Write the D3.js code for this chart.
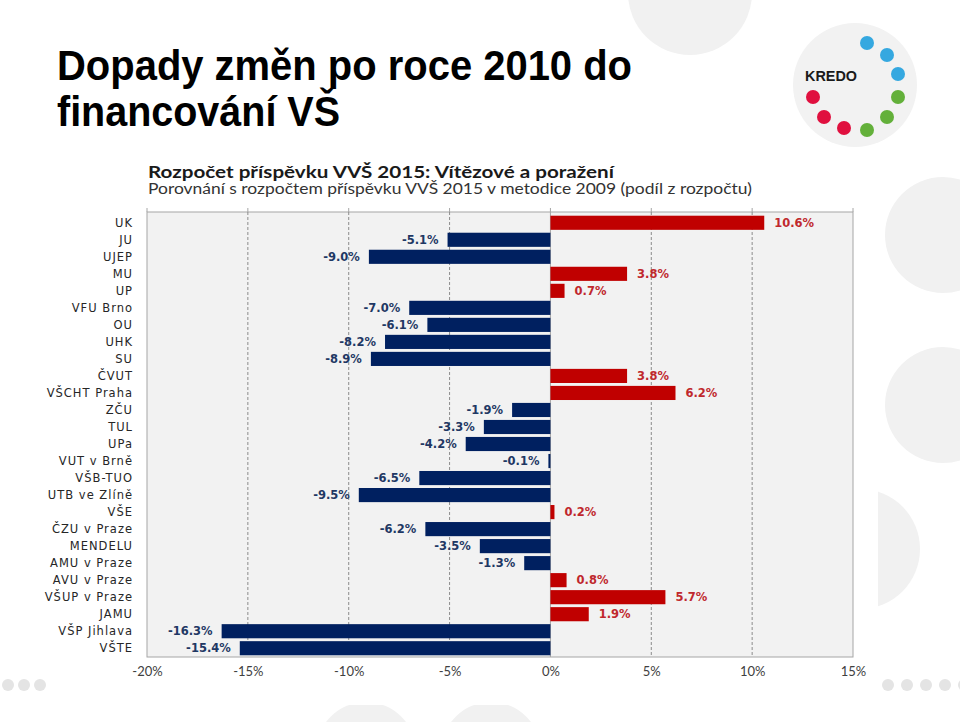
<!DOCTYPE html>
<html><head><meta charset="utf-8">
<script src="https://cdn.jsdelivr.net/npm/d3@7"></script>
<style>body{margin:0;background:#fff}svg{display:block}</style>
</head><body>
<script>
const categories = ["UK","JU","UJEP","MU","UP","VFU Brno","OU","UHK","SU","ČVUT","VŠCHT Praha","ZČU","TUL","UPa","VUT v Brně","VŠB-TUO","UTB ve Zlíně","VŠE","ČZU v Praze","MENDELU","AMU v Praze","AVU v Praze","VŠUP v Praze","JAMU","VŠP Jihlava","VŠTE"];
const values = [10.6,-5.1,-9.0,3.8,0.7,-7.0,-6.1,-8.2,-8.9,3.8,6.2,-1.9,-3.3,-4.2,-0.1,-6.5,-9.5,0.2,-6.2,-3.5,-1.3,0.8,5.7,1.9,-16.3,-15.4];
const xTicks = [-20,-15,-10,-5,0,5,10,15];
const gridTicks = [-15,-10,-5,5,10];
const pageTitle = ["Dopady změn po roce 2010 do","financování VŠ"];
const chartTitle = "Rozpočet příspěvku VVŠ 2015: Vítězové a poražení";
const chartSubtitle = "Porovnání s rozpočtem příspěvku VVŠ 2015 v metodice 2009 (podíl z rozpočtu)";

(function(){
const W=960,H=722;
const svg=d3.select("body").append("svg").attr("width",W).attr("height",H);
const bgC="#f1f1f1";
const deco=[[690,-7,62],[943,235,58],[943,405,58],[860,549,60],[366,752,50],[491,752,50]];
svg.selectAll("circle.deco").data(deco).join("circle").attr("class","deco")
  .attr("cx",d=>d[0]).attr("cy",d=>d[1]).attr("r",d=>d[2]).attr("fill",bgC);
const dotsL=[8,24,40], dotsR=[888,907,926,945,964];
svg.selectAll("circle.dl").data(dotsL.concat(dotsR)).join("circle").attr("class","dl")
  .attr("cx",d=>d).attr("cy",685).attr("r",6).attr("fill","#e4e4e4");

svg.append("rect").attr("x",138).attr("y",150).attr("width",740).attr("height",555).attr("fill","#fff");

svg.append("circle").attr("cx",855).attr("cy",85).attr("r",62).attr("fill","#f2f2f2");
const logoDots=[[867,43,"#35a8e0"],[887,55,"#35a8e0"],[898,74,"#35a8e0"],[898,97,"#63b03a"],[887,117,"#63b03a"],[867,130,"#63b03a"],[844,128,"#e0103f"],[824,117,"#e0103f"],[813,97,"#e0103f"]];
svg.selectAll("circle.ld").data(logoDots).join("circle").attr("class","ld")
  .attr("cx",d=>d[0]).attr("cy",d=>d[1]).attr("r",7).attr("fill",d=>d[2]);
svg.append("text").attr("x",805).attr("y",81).attr("font-family","Liberation Sans, Arial, sans-serif")
  .attr("font-size",15).attr("font-weight","bold").attr("fill","#1a1a1a")
  .attr("textLength",52).attr("lengthAdjust","spacingAndGlyphs").text("KREDO");

svg.selectAll("text.pt").data(pageTitle).join("text").attr("class","pt")
  .attr("x",57).attr("y",(d,i)=>80+i*46)
  .attr("font-family","Liberation Sans, Arial, sans-serif").attr("font-weight","bold")
  .attr("font-size",42).attr("fill","#000")
  .attr("textLength",(d,i)=>i?283:575).attr("lengthAdjust","spacingAndGlyphs")
  .text(d=>d);

svg.append("text").attr("x",148).attr("y",178).attr("font-family","Lato, sans-serif")
  .attr("font-weight","bold").attr("font-size",17.5).attr("fill","#1a1a1a")
  .attr("textLength",466).attr("lengthAdjust","spacingAndGlyphs").text(chartTitle);
svg.append("text").attr("x",148).attr("y",194).attr("font-family","Lato, sans-serif")
  .attr("font-size",14.5).attr("fill","#333")
  .attr("textLength",604).attr("lengthAdjust","spacingAndGlyphs").text(chartSubtitle);

const x=d3.scaleLinear().domain([-20,15]).range([147,853]);
const y=d3.scaleBand().domain(categories).range([214,657]).paddingInner(0.17).paddingOuter(0.1);
const pTop=212,pBot=657;

svg.append("rect").attr("x",x(-20)).attr("y",pTop).attr("width",x(15)-x(-20)).attr("height",pBot-pTop)
  .attr("fill","#f2f2f2").attr("stroke","#a6a6a6").attr("stroke-width",1);
svg.selectAll("line.tt").data(xTicks).join("line").attr("class","tt")
  .attr("x1",d=>x(d)).attr("x2",d=>x(d)).attr("y1",pTop-4).attr("y2",pTop).attr("stroke","#a6a6a6");
svg.selectAll("line.grid").data(gridTicks).join("line").attr("class","grid")
  .attr("x1",d=>x(d)).attr("x2",d=>x(d)).attr("y1",pTop).attr("y2",pBot)
  .attr("stroke","#8c8c8c").attr("stroke-width",1).attr("stroke-dasharray","3,2");
svg.append("line").attr("x1",x(0)).attr("x2",x(0)).attr("y1",pTop).attr("y2",pBot).attr("stroke","#a6a6a6");

svg.selectAll("rect.bar").data(values).join("rect").attr("class","bar")
  .attr("x",d=>x(Math.min(0,d))).attr("width",d=>Math.max(1,Math.abs(x(d)-x(0))))
  .attr("y",(d,i)=>y(categories[i])).attr("height",y.bandwidth())
  .attr("fill",d=>d<0?"#002060":"#c00000");

svg.selectAll("text.vl").data(values).join("text").attr("class","vl")
  .attr("x",d=>d<0?x(d)-9:x(d)+10)
  .attr("y",(d,i)=>y(categories[i])+y.bandwidth()/2)
  .attr("dy","0.35em").attr("text-anchor",d=>d<0?"end":"start")
  .attr("font-family","DejaVu Sans, Verdana, sans-serif").attr("font-weight","bold").attr("font-size",11.5)
  .attr("fill",d=>d<0?"#1f3864":"#c0282d")
  .text(d=>d.toFixed(1)+"%");

svg.selectAll("text.cl").data(categories).join("text").attr("class","cl")
  .attr("x",133).attr("y",d=>y(d)+y.bandwidth()/2).attr("dy","0.35em").attr("text-anchor","end")
  .attr("font-family","DejaVu Sans, Verdana, sans-serif").attr("font-size",11.5)
  .attr("letter-spacing",1).attr("fill","#262626").text(d=>d);

const ax=svg.append("g").attr("transform",`translate(0,${pBot})`)
  .call(d3.axisBottom(x).tickValues(xTicks).tickSize(0).tickPadding(10).tickFormat(d=>d+"%"));
ax.select(".domain").remove();
ax.selectAll("text").attr("font-family","Lato, sans-serif").attr("font-size",13).attr("fill","#404040");
})();
</script>
</body></html>
